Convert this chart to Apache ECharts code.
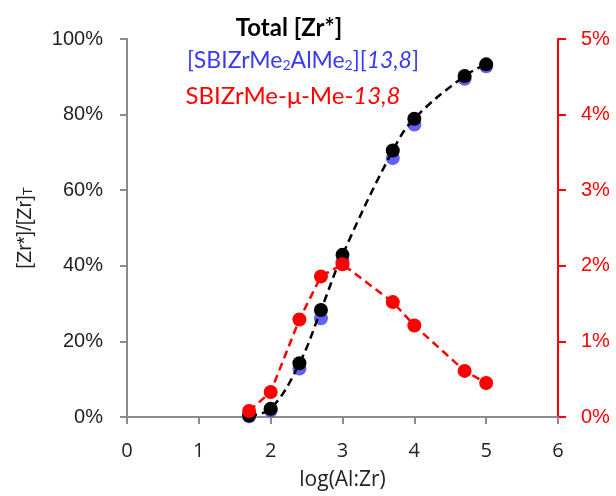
<!DOCTYPE html>
<html>
<head>
<meta charset="utf-8">
<script src="https://cdn.jsdelivr.net/npm/echarts@6/dist/echarts.min.js"></script>
<style>
  html, body { margin: 0; padding: 0; background: #fff; }
  #chart { width: 616px; height: 496px; }
</style>
</head>
<body>
<div id="chart"></div>
<script>
// log(Al:Zr)
var logAlZr = [1.7, 2, 2.4, 2.7, 3, 3.7, 4, 4.7, 5]
// [Zr*]/[Zr]T, %
var totalZr = [0.4, 2.2, 14.2, 28.3, 42.9, 70.5, 78.9, 90.2, 93.3]
var dimerZr = [0.2, 1.8, 12.8, 26.1, 41.1, 68.5, 77.4, 89.5, 92.8]
// right axis, %
var bridgeZr = [0.08, 0.33, 1.29, 1.86, 2.02, 1.52, 1.21, 0.61, 0.45]

var xTicks = [0, 1, 2, 3, 4, 5, 6]

function pairs (xs, ys) {
  return xs.map(function (x, i) { return [x, ys[i]] })
}

var labelFont = 'Liberation Sans'
var xFont = 'Open Sans'
var titleFont = 'Lato'

var chart = echarts.init(document.getElementById('chart'))
var option = {
  backgroundColor: '#fff',
  animation: false,
  grid: { left: 127, right: 58, top: 39, bottom: 79, outerBoundsMode: 'none' },
  xAxis: {
    type: 'value',
    min: xTicks[0],
    max: xTicks[xTicks.length - 1],
    interval: 1,
    name: 'log(Al:Zr)',
    nameLocation: 'middle',
    nameGap: 53,
    nameMoveOverlap: false,
    nameTextStyle: { fontFamily: xFont, fontSize: 21, color: '#222' },
    axisLine: { lineStyle: { color: '#8c8c8c', width: 2 } },
    axisTick: { lineStyle: { color: '#8c8c8c', width: 2 }, length: 7 },
    axisLabel: { fontFamily: xFont, fontSize: 20, color: '#222', margin: 24 },
    splitLine: { show: false }
  },
  yAxis: [
    {
      type: 'value',
      min: 0,
      max: 100,
      interval: 20,
      position: 'left',
      name: '[Zr*]/[Zr]{s|T}',
      nameLocation: 'middle',
      nameRotate: 90,
      nameGap: 92,
      nameMoveOverlap: false,
      nameTextStyle: {
        fontFamily: labelFont, fontSize: 20, color: '#222',
        rich: { s: { fontFamily: labelFont, fontSize: 13, color: '#222', verticalAlign: 'bottom', lineHeight: 12 } }
      },
      axisLine: { show: true, lineStyle: { color: '#8c8c8c', width: 2 } },
      axisTick: { show: true, lineStyle: { color: '#8c8c8c', width: 2 }, length: 7 },
      axisLabel: { fontFamily: labelFont, fontSize: 20, color: '#222', margin: 24, formatter: '{value}%' },
      splitLine: { show: false }
    },
    {
      type: 'value',
      min: 0,
      max: 5,
      interval: 1,
      position: 'right',
      axisLine: { show: true, lineStyle: { color: '#ff0000', width: 2 } },
      axisTick: { show: true, lineStyle: { color: '#ff0000', width: 2 }, length: 8 },
      axisLabel: { fontFamily: labelFont, fontSize: 20, color: '#ff0000', margin: 23, formatter: '{value}%' },
      splitLine: { show: false }
    }
  ],
  series: [
    {
      name: 'dimer',
      type: 'scatter',
      yAxisIndex: 0,
      symbolSize: 14,
      itemStyle: { color: '#3a3af2' },
      data: pairs(logAlZr, dimerZr),
      z: 2
    },
    {
      name: 'total',
      type: 'line',
      yAxisIndex: 0,
      smooth: 0.4,
      symbol: 'circle',
      symbolSize: 14,
      itemStyle: { color: '#000' },
      lineStyle: { color: '#000', width: 2.5, type: [8, 5] },
      data: pairs(logAlZr, totalZr),
      z: 3
    },
    {
      name: 'bridge',
      type: 'line',
      yAxisIndex: 1,
      symbol: 'circle',
      symbolSize: 14,
      itemStyle: { color: '#ff0000' },
      lineStyle: { color: '#ff0000', width: 2.5, type: [8, 5] },
      data: pairs(logAlZr, bridgeZr),
      z: 4
    }
  ]
}

// legend-like text block
option.graphic = [
  {
    type: 'text', x: 289, y: 28,
    style: { text: 'Total [Zr*]', font: 'bold 24px ' + titleFont, fill: '#000', align: 'center', verticalAlign: 'middle' }
  },
  {
    type: 'text', x: 303, y: 61,
    style: {
      text: '[SBIZrMe{s|2}AlMe{s|2}][{i|13,8}]',
      font: '23px ' + titleFont, fill: '#3a3af2', align: 'center', verticalAlign: 'middle',
      rich: {
        s: { font: '14px ' + titleFont, fill: '#3a3af2', verticalAlign: 'bottom', lineHeight: 12 },
        i: { font: 'italic 23px ' + titleFont, fill: '#3a3af2' }
      }
    }
  },
  {
    type: 'text', x: 293, y: 96,
    style: {
      text: 'SBIZrMe-μ-Me-{i|13,8}',
      font: '24px ' + titleFont, fill: '#ff0000', align: 'center', verticalAlign: 'middle',
      rich: { i: { font: 'italic 24px ' + titleFont, fill: '#ff0000' } }
    }
  }
]

chart.setOption(option)
</script>
</body>
</html>
